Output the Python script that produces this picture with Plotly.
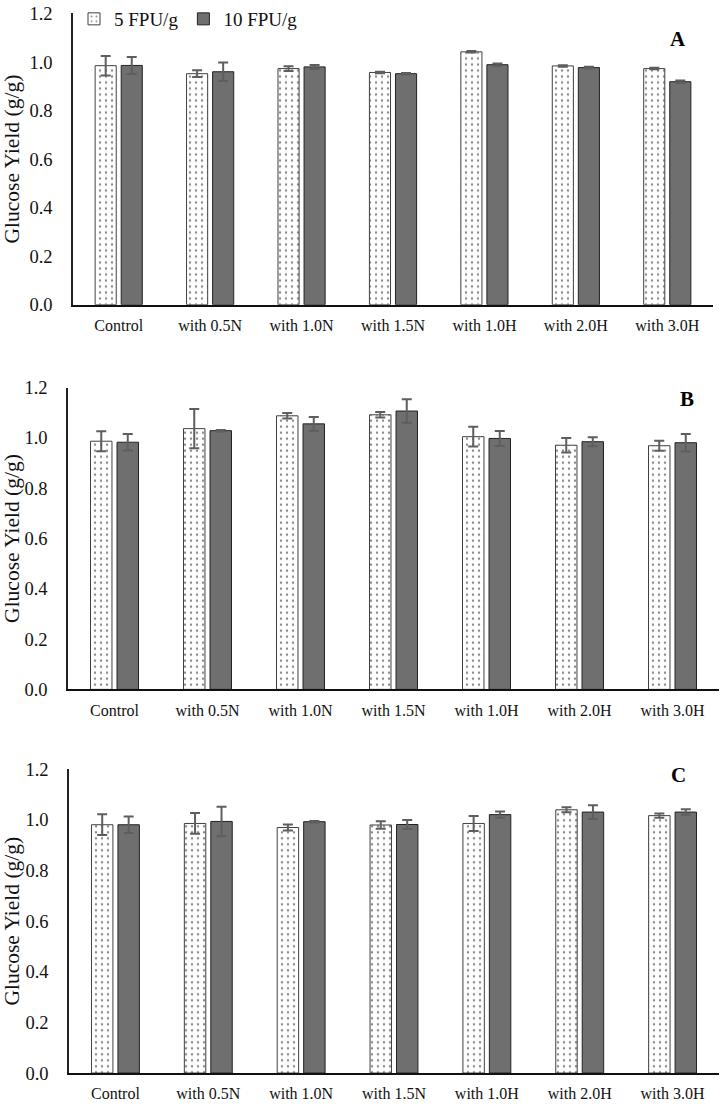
import plotly.graph_objects as go

categories = ["Control", "with 0.5N", "with 1.0N", "with 1.5N", "with 1.0H", "with 2.0H", "with 3.0H"]
series_names = ["5 FPU/g", "10 FPU/g"]

A_5 = [0.985, 0.952, 0.973, 0.957, 1.042, 0.984, 0.973]
A_5_err = [0.040, 0.014, 0.010, 0.003, 0.003, 0.003, 0.003]
A_10 = [0.986, 0.960, 0.980, 0.952, 0.989, 0.977, 0.919]
A_10_err = [0.035, 0.038, 0.008, 0.003, 0.005, 0.004, 0.005]

B_5 = [0.987, 1.037, 1.088, 1.092, 1.005, 0.971, 0.969]
B_5_err = [0.040, 0.078, 0.011, 0.011, 0.039, 0.029, 0.020]
B_10 = [0.983, 1.029, 1.056, 1.107, 0.998, 0.985, 0.981]
B_10_err = [0.033, 0.003, 0.027, 0.047, 0.030, 0.018, 0.035]

C_5 = [0.981, 0.986, 0.970, 0.980, 0.986, 1.040, 1.017]
C_5_err = [0.041, 0.041, 0.012, 0.015, 0.030, 0.010, 0.008]
C_10 = [0.981, 0.994, 0.993, 0.982, 1.021, 1.031, 1.031]
C_10_err = [0.033, 0.058, 0.003, 0.018, 0.012, 0.027, 0.011]

panel_labels = ["A", "B", "C"]
y_ticks = [0.0, 0.2, 0.4, 0.6, 0.8, 1.0, 1.2]

W, H = 720, 1108
FONT = "Liberation Serif, Times New Roman, serif"
ERR_COLOR = "#5e5e5e"
DARK = "#6f6f6f"

panels = [
    (A_5, A_5_err, A_10, A_10_err),
    (B_5, B_5_err, B_10, B_10_err),
    (C_5, C_5_err, C_10, C_10_err),
]
# pixel layout of each panel: (x_left, x_right, y_zero, y_top)
boxes = [(73, 713, 304, 12.5), (68, 719, 689, 387), (69, 719, 1073, 769)]
letter_pos = [(678, 38), (687, 398), (678, 775)]

fig = go.Figure()
for i, (v5, e5, v10, e10) in enumerate(panels):
    sfx = "" if i == 0 else str(i + 1)
    xa, ya = "x" + sfx, "y" + sfx
    fig.add_trace(go.Bar(
        x=categories, y=v5, name=series_names[0], xaxis=xa, yaxis=ya,
        showlegend=(i == 0), legendgroup="s5",
        marker=dict(color="white", line=dict(color="#404040", width=1),
                    pattern=dict(shape=".", fgcolor="#111111", bgcolor="white",
                                 size=6, solidity=0.12, fillmode="overlay")),
        error_y=dict(type="data", array=e5, color=ERR_COLOR, thickness=2, width=5),
    ))
    fig.add_trace(go.Bar(
        x=categories, y=v10, name=series_names[1], xaxis=xa, yaxis=ya,
        showlegend=(i == 0), legendgroup="s10",
        marker=dict(color=DARK, line=dict(color="#222222", width=1)),
        error_y=dict(type="data", array=e10, color=ERR_COLOR, thickness=2, width=5),
    ))
    xl, xr, yz, yt = boxes[i]
    xdom = [xl / W, xr / W]
    ydom = [1 - yz / H, 1 - yt / H]
    fig.update_layout(**{
        "xaxis" + sfx: dict(domain=xdom, anchor=ya, showline=True, linecolor="#111111",
                            linewidth=2, ticks="", showgrid=False, zeroline=False,
                            tickfont=dict(family=FONT, size=16, color="#111111"),
                            ticklabelstandoff=5, automargin=False),
        "yaxis" + sfx: dict(domain=ydom, anchor=xa, range=[0, 1.2], tickvals=y_ticks,
                            tickformat=".1f", showline=True, linecolor="#222222",
                            linewidth=1.5, ticks="", showgrid=False, zeroline=False,
                            tickfont=dict(family=FONT, size=18.5, color="#111111"),
                            ticklabelstandoff=15, automargin=False,
                            title=dict(text="Glucose Yield (g/g)", standoff=6,
                                       font=dict(family=FONT, size=21.5, color="#111111"))),
    })
    lx, ly = letter_pos[i]
    fig.add_annotation(text="<b>%s</b>" % panel_labels[i], xref="paper", yref="paper",
                       x=lx / W, y=1 - ly / H, xanchor="center", yanchor="middle",
                       showarrow=False,
                       font=dict(family=FONT, size=21, color="#000000"))

fig.update_layout(
    width=W, height=H, margin=dict(l=0, r=0, t=0, b=0),
    paper_bgcolor="white", plot_bgcolor="white",
    barmode="group", bargap=0.43, bargroupgap=0.19,
    showlegend=True,
    legend=dict(orientation="h", x=74 / W, y=1 + 1 / H, xanchor="left", yanchor="top",
                font=dict(family=FONT, size=19, color="#111111"),
                bgcolor="rgba(0,0,0,0)", traceorder="normal"),
)

fig.write_html("out.html", config={"displayModeBar": False},
               post_script="document.body.style.margin='0';document.body.style.padding='0';")
